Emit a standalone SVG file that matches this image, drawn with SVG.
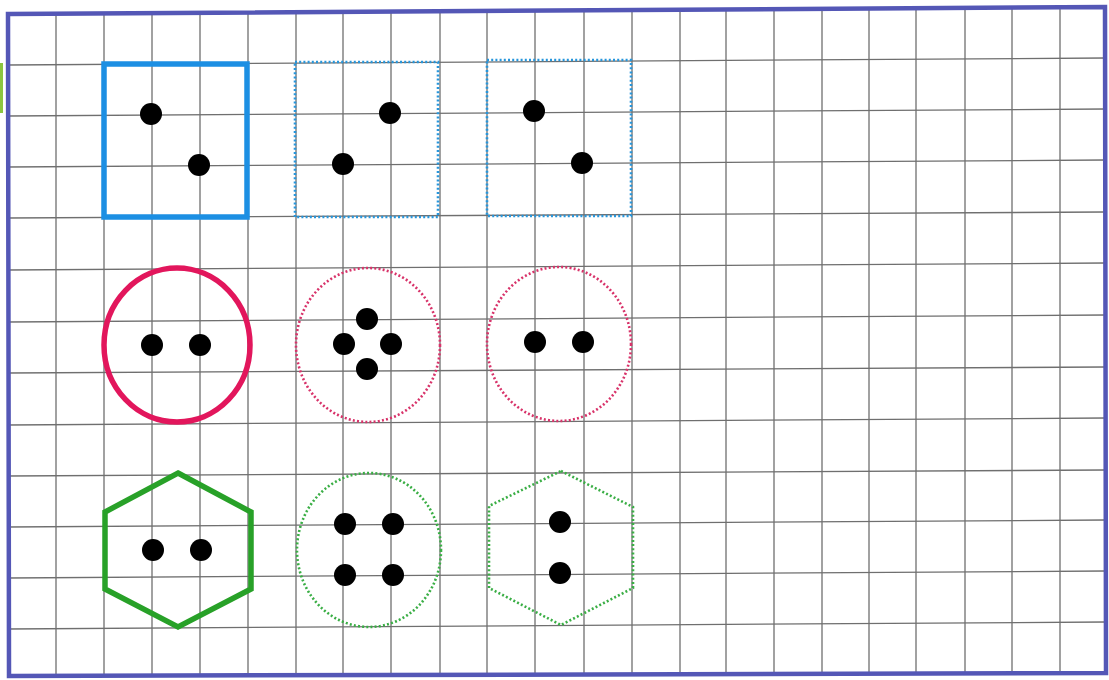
<svg xmlns="http://www.w3.org/2000/svg" width="1109" height="680" viewBox="0 0 1109 680">
<style>
.grid line{stroke:#6f6f6f;stroke-width:1.3}
.dot{fill:#000}
.blueS{fill:none;stroke:#1c8fe3;stroke-width:5.5}
.blueD{fill:none;stroke:#2696dc;stroke-width:2.6;stroke-dasharray:2 2.2}
.redS{fill:none;stroke:#e2165c;stroke-width:5.5}
.redD{fill:none;stroke:#d8336a;stroke-width:2.6;stroke-dasharray:2 2.2}
.greenS{fill:none;stroke:#28a128;stroke-width:5.5;stroke-linejoin:miter}
.greenD{fill:none;stroke:#3aae45;stroke-width:2.6;stroke-dasharray:2 2.2}
</style>
<rect width="1109" height="680" fill="#fff"/>
<rect x="0" y="63" width="3" height="50" fill="#8cc63f"/>
<g class="grid" id="grid">
<line x1="56" y1="12" x2="56" y2="676"/>
<line x1="104" y1="12" x2="104" y2="676"/>
<line x1="152" y1="12" x2="152" y2="676"/>
<line x1="200" y1="12" x2="200" y2="676"/>
<line x1="248" y1="12" x2="248" y2="676"/>
<line x1="296" y1="12" x2="296" y2="676"/>
<line x1="343" y1="12" x2="343" y2="676"/>
<line x1="391" y1="11" x2="391" y2="676"/>
<line x1="440" y1="11" x2="440" y2="676"/>
<line x1="487" y1="11" x2="487" y2="676"/>
<line x1="535" y1="11" x2="535" y2="676"/>
<line x1="584" y1="10" x2="584" y2="676"/>
<line x1="632" y1="10" x2="632" y2="676"/>
<line x1="680" y1="10" x2="680" y2="675"/>
<line x1="726" y1="9" x2="726" y2="675"/>
<line x1="774" y1="9" x2="774" y2="675"/>
<line x1="822" y1="9" x2="822" y2="675"/>
<line x1="869" y1="9" x2="869" y2="675"/>
<line x1="916" y1="8" x2="916" y2="675"/>
<line x1="965" y1="8" x2="965" y2="675"/>
<line x1="1012" y1="8" x2="1012" y2="674"/>
<line x1="1060" y1="8" x2="1060" y2="674"/>
<line x1="8" y1="65" x2="1105" y2="58"/>
<line x1="8" y1="116" x2="1105" y2="109"/>
<line x1="8" y1="167" x2="1105" y2="160"/>
<line x1="8" y1="218" x2="1105" y2="212"/>
<line x1="8" y1="270" x2="1105" y2="263"/>
<line x1="8" y1="322" x2="1105" y2="315"/>
<line x1="8" y1="373" x2="1105" y2="367"/>
<line x1="8" y1="425" x2="1105" y2="418"/>
<line x1="8" y1="476" x2="1105" y2="470"/>
<line x1="8" y1="527" x2="1105" y2="520"/>
<line x1="8" y1="578" x2="1105" y2="571"/>
<line x1="8" y1="629" x2="1105" y2="622"/>
</g>
<polygon id="border" points="8,14 1105,7 1106,673 9,676" fill="none" stroke="#5457b6" stroke-width="4.5"/>
<g id="square1">
<rect class="blueS" x="104" y="64" width="143" height="153"/>
<circle class="dot" cx="151" cy="114" r="11"/>
<circle class="dot" cx="199" cy="165" r="11"/>
</g>
<g id="square2">
<rect class="blueD" x="295" y="62" width="143" height="155"/>
<circle class="dot" cx="390" cy="113" r="11"/>
<circle class="dot" cx="343" cy="164" r="11"/>
</g>
<g id="square3">
<rect class="blueD" x="487" y="60" width="144" height="156"/>
<circle class="dot" cx="534" cy="111" r="11"/>
<circle class="dot" cx="582" cy="163" r="11"/>
</g>
<g id="circle1">
<ellipse class="redS" cx="177" cy="345" rx="73" ry="77"/>
<circle class="dot" cx="152" cy="345" r="11"/>
<circle class="dot" cx="200" cy="345" r="11"/>
</g>
<g id="circle2">
<ellipse class="redD" cx="368" cy="345" rx="72" ry="77"/>
<circle class="dot" cx="367" cy="319" r="11"/>
<circle class="dot" cx="344" cy="344" r="11"/>
<circle class="dot" cx="391" cy="344" r="11"/>
<circle class="dot" cx="367" cy="369" r="11"/>
</g>
<g id="circle3">
<ellipse class="redD" cx="559" cy="344" rx="72" ry="77"/>
<circle class="dot" cx="535" cy="342" r="11"/>
<circle class="dot" cx="583" cy="342" r="11"/>
</g>
<g id="hexagon1">
<polygon class="greenS" points="178,473 251,512 251,589 178,627 105,589 105,512"/>
<circle class="dot" cx="153" cy="550" r="11"/>
<circle class="dot" cx="201" cy="550" r="11"/>
</g>
<g id="circle4">
<ellipse class="greenD" cx="369" cy="550" rx="72" ry="77"/>
<circle class="dot" cx="345" cy="524" r="11"/>
<circle class="dot" cx="393" cy="524" r="11"/>
<circle class="dot" cx="345" cy="575" r="11"/>
<circle class="dot" cx="393" cy="575" r="11"/>
</g>
<g id="hexagon2">
<polygon class="greenD" points="561,471 633,507 633,588 561,625 489,588 489,506"/>
<circle class="dot" cx="560" cy="522" r="11"/>
<circle class="dot" cx="560" cy="573" r="11"/>
</g>
</svg>
